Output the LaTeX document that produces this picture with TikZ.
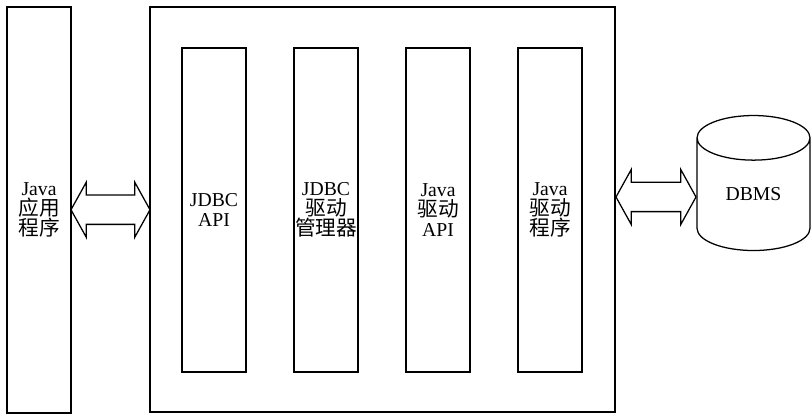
\documentclass[tikz,border=0pt]{standalone}
\usepackage{fontspec}
\setmainfont{Liberation Serif}
\newfontfamily\cjk[Scale=1.05]{Noto Sans CJK SC}
\usetikzlibrary{shapes.geometric,shapes.arrows,calc}

\begin{document}
\begin{tikzpicture}[line width=0.9pt,
        blk/.style={draw, rectangle, inner sep=0pt, align=center,
            font=\fontsize{14}{14.4}\selectfont},
        fat/.style={draw, double arrow, fill=white, inner xsep=0pt, inner ysep=0.35cm,
            double arrow head extend=0.325cm, double arrow tip angle=122}]

    \useasboundingbox (0,0) rectangle (20.3,10.45);

    % --- aplikacja i ramka JDBC ---
    \node[blk, minimum width=1.6cm, minimum height=10.15cm] (app) at (0.975,5.2)
        {Java\\{\cjk 应用}\\{\cjk 程序}};
    \node[blk, minimum width=11.625cm, minimum height=10.125cm] (frame) at (9.5625,5.2125) {};

    % --- warstwy wewnątrz ramki ---
    \foreach \i/\txt in {0/{JDBC\\API},
            1/{JDBC\\{\cjk 驱动}\\{\cjk 管理器}},
            2/{Java\\{\cjk 驱动}\\API},
            3/{Java\\{\cjk 驱动}\\{\cjk 程序}}} {
        \node[blk, minimum width=1.6cm, minimum height=8.1cm] (L\i) at ({5.35+\i*2.8},5.2) {\txt};
    }

    % --- baza danych ---
    \node[draw, cylinder, shape border rotate=90, aspect=0.8, inner sep=0pt,
        minimum width=2.825cm, minimum height=3.375cm,
        font=\fontsize{14}{14.4}\selectfont] (db) at (18.8375,5.5875) {DBMS};

    % --- strzałki dwukierunkowe ---
    \node[fat, minimum height=1.975cm] (arrL) at ($(app.east)!0.5!(frame.west)$) {};
    \node[fat, minimum height=2cm] (arrR) at ($(frame.east |- 0,5.525)!0.5!(db.west |- 0,5.525)$) {};

\end{tikzpicture}
\end{document}
